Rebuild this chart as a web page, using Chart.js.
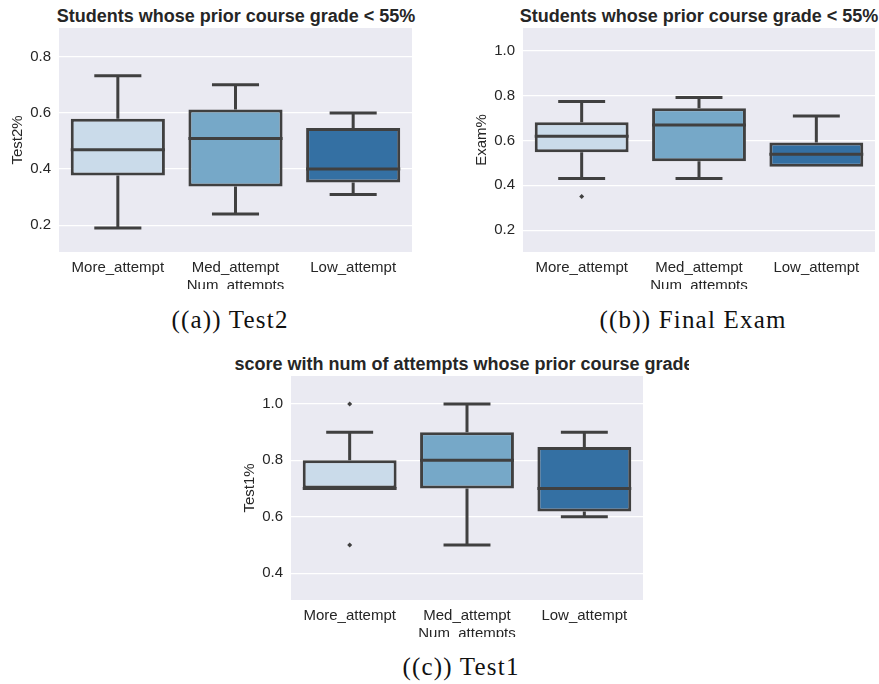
<!DOCTYPE html>
<html>
<head>
<meta charset="utf-8">
<script src="https://cdn.jsdelivr.net/npm/chart.js@4.4.1/dist/chart.umd.min.js"></script>
<style>
  body { margin: 0; width: 879px; height: 684px; position: relative; overflow: hidden; background: #fff; }
  canvas { position: absolute; }
  .title { position: absolute; width: 1000px; text-align: center; white-space: nowrap;
           font: bold 18px "Liberation Sans", Arial, sans-serif; line-height: 20px; color: #262626; }
  .clip { position: absolute; overflow: hidden; height: 24px; }
  .caption { position: absolute; width: 400px; text-align: center; white-space: nowrap;
             font: 25px "Liberation Serif", "Times New Roman", serif; line-height: 28px;
             letter-spacing: 1.2px; color: #111; }
</style>
</head>
<body>

<div class="title" style="left:-264px; top:6px;">Students whose prior course grade &lt; 55%</div>
<div class="title" style="left:199px; top:6px;">Students whose prior course grade &lt; 55%</div>
<div class="clip" style="left:233px; top:354px; width:456px;">
  <div class="title" style="left:-266px; top:0;">Test1 score with num of attempts whose prior course grade &lt; 55%</div>
</div>

<canvas id="chartTest2" width="416" height="265" style="left:0; top:24px;"></canvas>
<canvas id="chartExam" width="415" height="265" style="left:464px; top:24px;"></canvas>
<canvas id="chartTest1" width="415" height="265" style="left:232px; top:372px;"></canvas>

<div class="caption" style="left:30px; top:306px;">((a)) Test2</div>
<div class="caption" style="left:493px; top:306px;">((b)) Final Exam</div>
<div class="caption" style="left:261px; top:653px;">((c)) Test1</div>

<script>
const categories = ["More_attempt", "Med_attempt", "Low_attempt"];
const boxColors = ["#cadbea", "#76a8c8", "#3470a3"];

// Test2 %
const test2Low = [0.19, 0.24, 0.31];
const test2Q1 = [0.377, 0.338, 0.352];
const test2Median = [0.469, 0.509, 0.40];
const test2Q3 = [0.579, 0.612, 0.546];
const test2High = [0.732, 0.70, 0.60];
const test2Outliers = [[], [], []];

// Final exam %
const examLow = [0.43, 0.43, 0.483];
const examQ1 = [0.547, 0.507, 0.483];
const examMedian = [0.619, 0.669, 0.539];
const examQ3 = [0.681, 0.744, 0.591];
const examHigh = [0.773, 0.791, 0.709];
const examOutliers = [[0.35], [], []];

// Test1 %
const test1Low = [0.7, 0.5, 0.6];
const test1Q1 = [0.7, 0.7, 0.619];
const test1Median = [0.7, 0.8, 0.7];
const test1Q3 = [0.8, 0.9, 0.847];
const test1High = [0.9, 1.0, 0.9];
const test1Outliers = [[1.0, 0.5], [], []];

const lineColor = "#404040";
const textColor = "#262626";

Chart.defaults.font.family = '"Liberation Sans", Arial, sans-serif';
Chart.defaults.font.size = 15;
Chart.defaults.color = textColor;

// seaborn-like panel background + whiskers and medians on top of the boxes
const boxWhiskers = {
  id: "boxWhiskers",
  beforeDraw(chart) {
    const { ctx, chartArea: a } = chart;
    ctx.save();
    ctx.fillStyle = "#eaeaf2";
    ctx.fillRect(a.left, a.top, a.right - a.left, a.bottom - a.top);
    ctx.restore();
  },
  afterDatasetsDraw(chart) {
    const { ctx, scales: { x, y } } = chart;
    const s = chart.data.datasets[0].stats;
    const bars = chart.getDatasetMeta(0).data;
    ctx.save();
    ctx.strokeStyle = lineColor;
    ctx.lineWidth = 3;
    ctx.beginPath();
    s.median.forEach((m, i) => {
      const cx = x.getPixelForValue(i);
      const w = bars[i].width;
      const cap = w / 4;
      const yq1 = y.getPixelForValue(s.q1[i]);
      const yq3 = y.getPixelForValue(s.q3[i]);
      if (s.high[i] > s.q3[i]) {
        const yh = y.getPixelForValue(s.high[i]);
        ctx.moveTo(cx, yq3); ctx.lineTo(cx, yh);
        ctx.moveTo(cx - cap, yh); ctx.lineTo(cx + cap, yh);
      }
      if (s.low[i] < s.q1[i]) {
        const yl = y.getPixelForValue(s.low[i]);
        ctx.moveTo(cx, yq1); ctx.lineTo(cx, yl);
        ctx.moveTo(cx - cap, yl); ctx.lineTo(cx + cap, yl);
      }
      const ym = y.getPixelForValue(m);
      ctx.moveTo(cx - w / 2, ym); ctx.lineTo(cx + w / 2, ym);
    });
    ctx.stroke();
    ctx.restore();
  }
};

function makeBoxChart(id, yLabel, yMin, yMax, low, q1, median, q3, high, outliers) {
  const fliers = [];
  outliers.forEach((vals, i) => vals.forEach(v => fliers.push({ x: categories[i], y: v })));

  new Chart(document.getElementById(id), {
    type: "bar",
    data: {
      labels: categories,
      datasets: [{
        data: q1.map((v, i) => [v, q3[i]]),
        stats: { low, q1, median, q3, high },
        backgroundColor: boxColors,
        borderColor: lineColor,
        borderWidth: 3,
        borderSkipped: false,
        barPercentage: 0.8,
        categoryPercentage: 1.0
      }, {
        type: "scatter",
        data: fliers,
        pointStyle: "rectRot",
        radius: 2.5,
        backgroundColor: lineColor,
        borderWidth: 0
      }]
    },
    options: {
      responsive: false,
      animation: false,
      layout: { padding: { top: 4, right: 4, left: 0, bottom: 0 } },
      plugins: { legend: { display: false }, tooltip: { enabled: false } },
      scales: {
        x: {
          grid: { display: false, drawTicks: false },
          border: { display: false },
          ticks: { padding: 7, color: textColor },
          title: {
            display: true,
            text: "Num_attempts",
            color: textColor,
            padding: 0,
            font: { size: 15, lineHeight: 0.4 }
          },
          afterFit: s => { s.height = 37; s.paddingLeft = 0; s.paddingRight = 0; }
        },
        y: {
          min: yMin,
          max: yMax,
          grid: { color: "#ffffff", lineWidth: 1.2, drawTicks: false },
          border: { display: false },
          ticks: {
            stepSize: 0.2,
            includeBounds: false,
            padding: 8,
            color: textColor,
            callback: v => v.toFixed(1)
          },
          title: {
            display: true,
            text: yLabel,
            color: textColor,
            padding: { top: 9, bottom: 0 },
            font: { size: 15 }
          },
          afterFit: s => { s.width = 59; s.paddingTop = 0; s.paddingBottom = 0; }
        }
      }
    },
    plugins: [boxWhiskers]
  });
}

makeBoxChart("chartTest2", "Test2%", 0.105, 0.902,
  test2Low, test2Q1, test2Median, test2Q3, test2High, test2Outliers);
makeBoxChart("chartExam", "Exam%", 0.103, 1.101,
  examLow, examQ1, examMedian, examQ3, examHigh, examOutliers);
makeBoxChart("chartTest1", "Test1%", 0.305, 1.099,
  test1Low, test1Q1, test1Median, test1Q3, test1High, test1Outliers);
</script>
</body>
</html>
